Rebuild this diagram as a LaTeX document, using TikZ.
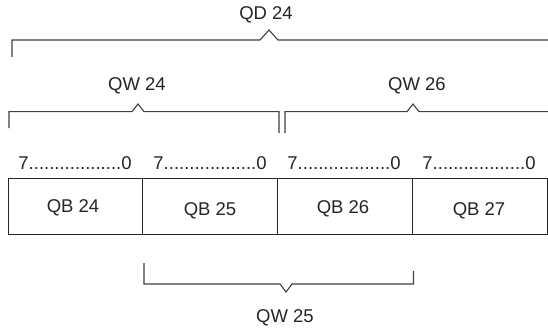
\documentclass[tikz,border=0pt]{standalone}
\usepackage{fontspec}
\setmainfont{Liberation Sans}
\begin{document}
\begin{tikzpicture}[x=1pt,y=-1pt,
  lbl/.style={inner sep=0pt, text=black!85, font=\fontsize{18.5}{20}\selectfont},
  brk/.style={draw=black!75, line width=1.1pt},
  cell/.style={draw=black!85, line width=1.1pt, minimum width=134.75pt, minimum height=56pt, inner sep=0pt, anchor=north west}]
\useasboundingbox (0,0) rectangle (548,334);
\fill[white] (0,0) rectangle (548,334);

% byte cells
\node[cell] (c1) at (7.5,178) {};
\node[cell] (c2) at (142.25,178) {};
\node[cell] (c3) at (277,178) {};
\node[cell] (c4) at (411.75,178) {};

\node[lbl] (qb24) at (73,208) {QB 24};
\node[lbl] (qb25) at (210,211) {QB 25};
\node[lbl] (qb26) at (343,209) {QB 26};
\node[lbl] (qb27) at (479,211) {QB 27};

% bit ranges
\node[lbl] (b1) at (75,163) {7..................0};
\node[lbl] (b2) at (210,163) {7..................0};
\node[lbl] (b3) at (344,163) {7..................0};
\node[lbl] (b4) at (479,163) {7..................0};

% QD 24 bracket
\coordinate (qdL) at (12,57);
\coordinate (qdA) at (260,40);
\coordinate (qdP) at (269,30);
\coordinate (qdB) at (278,40);
\coordinate (qdR) at (548,40);
\draw[brk] (qdL) |- (qdA) -- (qdP) -- (qdB) -- (qdR);
\node[lbl] (qd24) at (266,15) {QD 24};

% QW 24 bracket
\coordinate (wa1) at (9,128);
\coordinate (wa2) at (132,111.7);
\coordinate (wa3) at (138,104);
\coordinate (wa4) at (144,111.7);
\coordinate (wa5) at (279,133);
\draw[brk] (wa1) |- (wa2) -- (wa3) -- (wa4) -| (wa5);
\node[lbl] (qw24) at (137,86) {QW 24};

% QW 26 bracket
\coordinate (wc1) at (285,133);
\coordinate (wc2) at (407,111.7);
\coordinate (wc3) at (413,104);
\coordinate (wc4) at (419,111.7);
\coordinate (wc5) at (548,111.7);
\draw[brk] (wc1) |- (wc2) -- (wc3) -- (wc4) -- (wc5);
\node[lbl] (qw26) at (417,86) {QW 26};

% QW 25 bracket
\coordinate (wb1) at (144,263);
\coordinate (wb2) at (280,284);
\coordinate (wb3) at (286,292);
\coordinate (wb4) at (292,284);
\coordinate (wb5) at (413.5,271);
\draw[brk] (wb1) |- (wb2) -- (wb3) -- (wb4) -| (wb5);
\node[lbl] (qw25) at (285,318) {QW 25};
\end{tikzpicture}
\end{document}
